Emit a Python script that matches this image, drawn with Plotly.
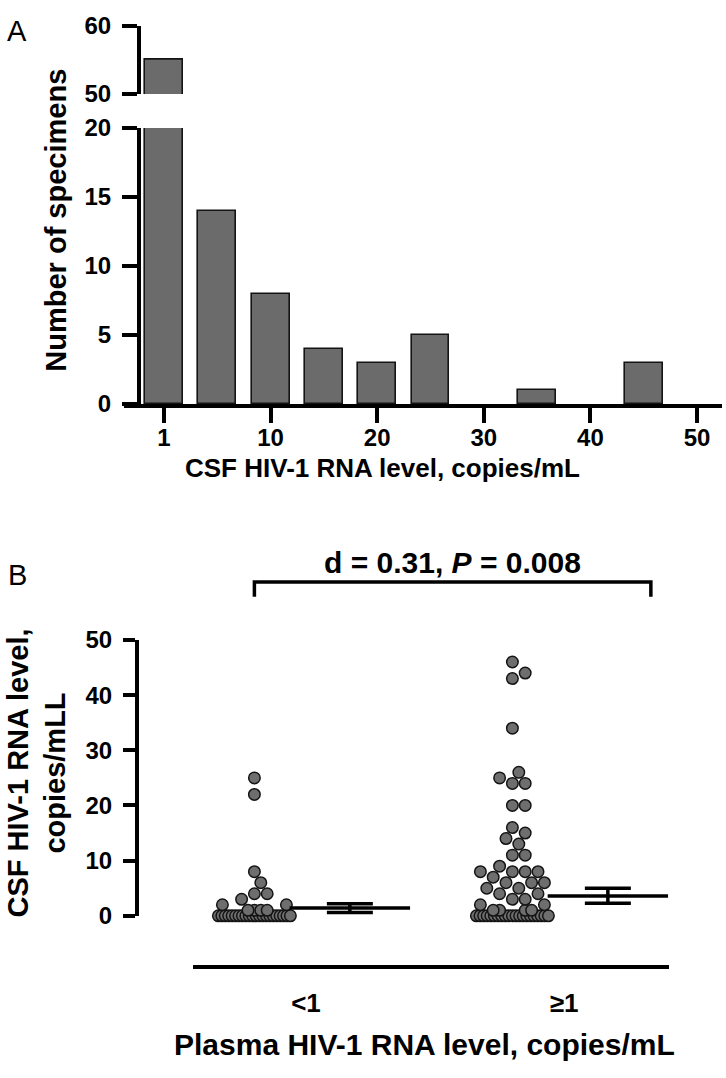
import numpy as np
import plotly.graph_objects as go

W, H = 726, 1078

# ---------------- Panel A data ----------------
bin_centers = [0, 5, 10, 15, 20, 25, 30, 35, 40, 45, 50]
counts = [55, 14, 8, 4, 3, 5, 0, 1, 0, 3, 0]
a_xtick_vals = [0, 10, 20, 30, 40, 50]
a_xtick_text = ["1", "10", "20", "30", "40", "50"]
a_low_ticks = [0, 5, 10, 15, 20]
a_high_ticks = [50, 60]

# ---------------- Panel B data ----------------
groups = ["<1", "≥1"]
csf_lt1 = [0, 0, 0, 0, 0, 0, 0, 0, 0, 0, 0, 0, 0, 0, 0, 0, 0, 0, 0, 0, 0, 0,
           1, 1, 1, 1, 2, 2, 3, 4, 4, 6, 8, 22, 25]
csf_ge1 = [0, 0, 0, 0, 0, 0, 0, 0, 0, 0, 0, 0, 0, 0, 0, 0, 0, 0, 0, 0, 0,
           1, 1, 1, 1, 2, 2, 3, 3, 4, 4, 5, 5, 6, 6, 6, 7, 8, 8, 8, 8, 9,
           11, 11, 13, 14, 15, 16, 20, 20, 24, 24, 25, 26, 34, 43, 44, 46]
centre = [1.4, 3.6]
upper = [2.2, 5.0]
lower = [0.6, 2.3]
b_yticks = [0, 10, 20, 30, 40, 50]
stat_text = "<b>d = 0.31, <i>P</i> = 0.008</b>"

FONT = "Liberation Sans, Arial, Helvetica, sans-serif"
BAR_FILL = "#6b6b6b"
EDGE = "#141414"

def py(p):
    return 1 - p / H

def px(p):
    return p / W

# ---------- panel B geometry (pixels) ----------
B_X0, B_X1 = 193, 669
B_CAT0_PX, B_CAT_STEP = 306, 258
B_Y0_PX, B_Y50_PX = 925, 642
ypx_per_unit = (B_Y0_PX - B_Y50_PX) / 50.0
DOT_OFF = -0.2
ERR_OFF = 0.17
DOT_D = 12.8


def swarm_offsets(vals, d, ypu, max_half, row_half):
    n = len(vals)
    offs = [0.0] * n
    order = sorted(range(n), key=lambda i: vals[i])
    placed = []
    done = set()
    for v in sorted(set(vals)):
        idx = [i for i in order if vals[i] == v]
        c = len(idx)
        if c * d > 2 * max_half + d:
            xs = np.linspace(-row_half, row_half, c)
            for i, x in zip(idx, xs):
                offs[i] = float(x)
                placed.append((float(x), v * ypu))
                done.add(i)
    cands = [0.0]
    k = 1
    while k * d / 2 <= max_half:
        cands += [k * d / 2, -k * d / 2]
        k += 1
    for i in order:
        if i in done:
            continue
        y = vals[i] * ypu
        best, bestscore = 0.0, -1.0
        for c in cands:
            md = min([np.hypot(c - a, y - b) for a, b in placed] or [1e9])
            if md >= d * 0.98:
                best = c
                break
            if md > bestscore:
                bestscore, best = md, c
        offs[i] = best
        placed.append((best, y))
    return offs


fig = go.Figure()

# ---------- Panel A bars (broken axis: lower and upper segments) ----------
bar_w = 3.56
bar_y = [c if c > 0 else None for c in counts]
for ya in ["y", "y2"]:
    fig.add_trace(go.Bar(
        x=bin_centers, y=bar_y, width=bar_w, xaxis="x", yaxis=ya,
        marker=dict(color=BAR_FILL, line=dict(color=EDGE, width=1.6)),
        hoverinfo="skip"))

# ---------- Panel B dots ----------
for gi, vals in enumerate([csf_lt1, csf_ge1]):
    offs = swarm_offsets(vals, DOT_D, ypx_per_unit, 38, 36)
    order = sorted(range(len(vals)), key=lambda i: vals[i])
    xs = [gi + DOT_OFF + offs[i] / B_CAT_STEP for i in order]
    ys = [vals[i] for i in order]
    fig.add_trace(go.Scatter(
        x=xs, y=ys, mode="markers", xaxis="x2", yaxis="y3", cliponaxis=False,
        marker=dict(size=11.5, color="#6e6e6e", line=dict(color=EDGE, width=1.5)),
        hoverinfo="skip"))

# ---------- Panel B summary bars ----------
fig.add_trace(go.Scatter(
    x=[i + ERR_OFF for i in range(len(groups))], y=centre, mode="markers",
    xaxis="x2", yaxis="y3", cliponaxis=False,
    marker=dict(symbol="line-ew", size=86, color="black",
                line=dict(color="black", width=3.5)),
    error_y=dict(type="data", symmetric=False,
                 array=[u - c for u, c in zip(upper, centre)],
                 arrayminus=[c - l for c, l in zip(centre, lower)],
                 color="black", thickness=3.5, width=23),
    hoverinfo="skip"))

# ---------- Panel B bracket ----------
BR_Y = 60.5
BR_DROP = 2.7
xl = 0 + DOT_OFF
xr = 1 + ERR_OFF + 43 / B_CAT_STEP
fig.add_trace(go.Scatter(
    x=[xl, xl, xr, xr], y=[BR_Y - BR_DROP, BR_Y, BR_Y, BR_Y - BR_DROP],
    mode="lines", xaxis="x2", yaxis="y4",
    line=dict(color="black", width=3.5), hoverinfo="skip"))

# ---------- axes ----------
a_px_per_unit = (697 - 164) / 50.0
axis_common = dict(showgrid=False, zeroline=False, showline=True, linewidth=4,
                   linecolor="black", tickcolor="black", tickwidth=4,
                   tickfont=dict(family=FONT, size=24, color="black", weight="bold"))

fig.update_layout(
    width=W, height=H,
    margin=dict(l=0, r=0, t=0, b=0),
    paper_bgcolor="white", plot_bgcolor="rgba(0,0,0,0)",
    showlegend=False, bargap=0,
    xaxis=dict(domain=[px(124), px(722)],
               range=[(124 - 164) / a_px_per_unit, (722 - 164) / a_px_per_unit],
               anchor="y", ticks="outside", ticklen=15,
               tickvals=a_xtick_vals, ticktext=a_xtick_text,
               ticklabelstandoff=-6, **axis_common),
    yaxis=dict(domain=[py(400), py(117)], range=[0, 20], anchor="free",
               position=px(139), ticks="outside", ticklen=15,
               tickvals=a_low_ticks, ticklabelstandoff=6, **axis_common),
    yaxis2=dict(domain=[py(82), py(12)], range=[50, 60], anchor="free",
                position=px(139), ticks="outside", ticklen=15,
                tickvals=a_high_ticks, ticklabelstandoff=6, **axis_common),
    xaxis2=dict(domain=[px(B_X0), px(B_X1)],
                range=[(B_X0 - B_CAT0_PX) / B_CAT_STEP, (B_X1 - B_CAT0_PX) / B_CAT_STEP],
                anchor="free", position=py(977), ticks="",
                tickvals=list(range(len(groups))), ticktext=groups,
                ticklabelstandoff=12,
                **{**axis_common, "tickfont": dict(family=FONT, size=26, color="black", weight="bold")}),
    yaxis3=dict(domain=[py(B_Y0_PX), py(B_Y50_PX)], range=[0, 50], anchor="free",
                position=px(137), ticks="outside", ticklen=12,
                tickvals=b_yticks, ticklabelstandoff=6, **axis_common),
    yaxis4=dict(domain=[py(B_Y0_PX), py(550)],
                range=[0, (B_Y0_PX - 550) / ypx_per_unit],
                anchor="x2", visible=False),
)

fa = dict(family=FONT, size=26, color="black")
fa_y = dict(family=FONT, size=29, color="black")
fb = dict(family=FONT, size=30, color="black")
fig.add_annotation(text="<b>CSF HIV-1 RNA level, copies/mL</b>", xref="paper", yref="paper",
                   x=px(382), y=py(466), showarrow=False, xanchor="center", yanchor="middle",
                   font=fa)
fig.add_annotation(text="<b>Number of specimens</b>", xref="paper", yref="paper",
                   x=px(56), y=py(212), showarrow=False, textangle=-90,
                   xanchor="center", yanchor="middle", font=fa_y)
fig.add_annotation(text="<b>Plasma HIV-1 RNA level, copies/mL</b>", xref="paper", yref="paper",
                   x=px(424), y=py(1057), showarrow=False, xanchor="center", yanchor="middle",
                   font=fb)
fig.add_annotation(text="<b>CSF HIV-1 RNA level,<br>copies/mLL</b>", xref="paper", yref="paper",
                   x=px(37), y=py(779), showarrow=False, textangle=-90,
                   xanchor="center", yanchor="middle",
                   font=dict(family=FONT, size=29, color="black"))
fig.add_annotation(text=stat_text, xref="x2", yref="y4", x=(xl + xr) / 2, y=BR_Y,
                   showarrow=False, xanchor="center", yanchor="bottom", yshift=1,
                   font=fb)
fig.add_annotation(text="A", xref="paper", yref="paper", x=px(17), y=py(17),
                   showarrow=False, xanchor="center", yanchor="middle",
                   font=dict(family=FONT, size=29, color="black"))
fig.add_annotation(text="B", xref="paper", yref="paper", x=px(17), y=py(575),
                   showarrow=False, xanchor="center", yanchor="middle",
                   font=dict(family=FONT, size=29, color="black"))

fig.write_html("out.html", config={"displayModeBar": False},
               post_script="document.body.style.margin='0px';")
